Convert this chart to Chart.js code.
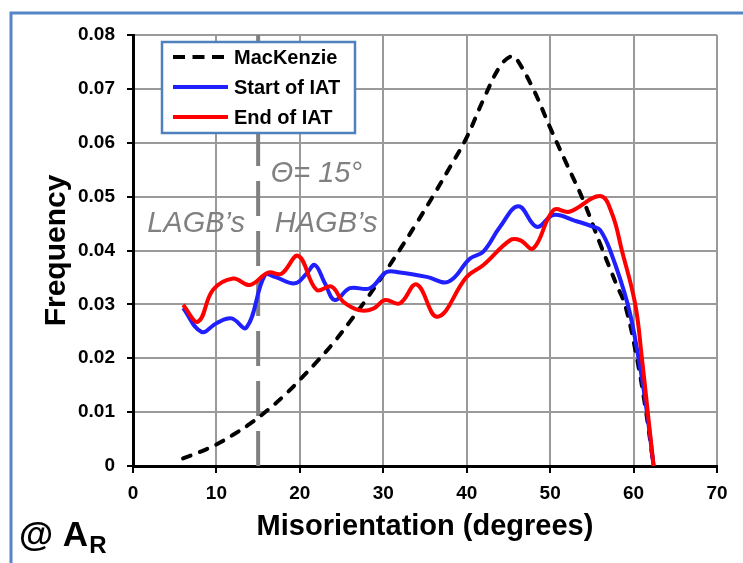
<!DOCTYPE html>
<html>
<head>
<meta charset="utf-8">
<script src="https://cdn.jsdelivr.net/npm/chart.js@4"></script>
<style>
  html, body { margin: 0; padding: 0; background: #fff; }
  #wrap { position: relative; width: 743px; height: 563px; }
</style>
</head>
<body>
<div id="wrap"><canvas id="misoChart" width="743" height="563"></canvas></div>
<script>
// --- DATA ---
const mackX = [6, 8, 10, 12, 14, 16, 18, 20, 22, 24, 26, 28, 30, 32, 34, 36, 38, 40, 42, 44, 45.4, 46, 48, 50, 52, 54, 56, 58, 59, 60.4, 61.5, 62.4];
const mackY = [0.0014, 0.0026, 0.0040, 0.0058, 0.0078, 0.0102, 0.0129, 0.0160, 0.0193, 0.0228, 0.0268, 0.0310, 0.0355, 0.0402, 0.0451, 0.0502, 0.0555, 0.0610, 0.0680, 0.0742, 0.0761, 0.0755, 0.0699, 0.0628, 0.0560, 0.0492, 0.0412, 0.0335, 0.0298, 0.0200, 0.0100, 0];

const startX = [6, 8.2, 10, 11.8, 13.6, 15.8, 17, 19.4, 20.8, 21.8, 23, 24.2, 26, 28.4, 30.4, 32, 35.2, 37.8, 40.4, 42, 44, 46.2, 48.4, 50.4, 53, 55.2, 56, 57.2, 59.3, 60.6, 61.6, 62.4];
const startY = [0.0293, 0.0249, 0.0265, 0.0274, 0.0257, 0.0354, 0.0351, 0.0339, 0.0357, 0.0373, 0.0339, 0.0308, 0.0330, 0.0330, 0.0360, 0.0359, 0.0351, 0.0342, 0.0385, 0.0398, 0.0444, 0.0482, 0.0444, 0.0466, 0.0455, 0.0444, 0.0438, 0.0400, 0.0300, 0.0200, 0.0100, 0];

const endX = [6, 7.8, 9.6, 12, 14, 16.2, 17.8, 19.8, 22, 23.8, 25.2, 27.2, 28.8, 30.2, 32, 34, 36.5, 40, 42, 45.2, 46.4, 48, 50.4, 52.3, 56, 57.4, 58.6, 60.2, 61, 61.7, 62.4];
const endY = [0.0299, 0.0268, 0.0327, 0.0348, 0.0336, 0.0359, 0.0357, 0.0390, 0.0327, 0.0333, 0.0305, 0.0289, 0.0292, 0.0308, 0.0302, 0.0337, 0.0277, 0.0351, 0.0373, 0.0419, 0.0419, 0.0404, 0.0475, 0.0472, 0.0501, 0.0469, 0.0400, 0.0300, 0.0200, 0.0100, 0];

const seriesNames = ['MacKenzie', 'Start of IAT', 'End of IAT'];
const yTickLabels = ['0', '0.01', '0.02', '0.03', '0.04', '0.05', '0.06', '0.07', '0.08'];
const xTickLabels = ['0', '10', '20', '30', '40', '50', '60', '70'];
const thetaCut = 15;

const FONT = 'Arial, "Liberation Sans", sans-serif';

function toPoints(xs, ys) {
  return xs.map((x, i) => ({ x: x, y: ys[i] }));
}

// --- extra drawing: frame, 15 deg line, labels, legend ---
const decorPlugin = {
  id: 'decor',
  beforeDraw(chart) {
    const ctx = chart.ctx;
    ctx.save();
    ctx.fillStyle = '#fff';
    ctx.fillRect(0, 0, chart.width, chart.height);
    ctx.strokeStyle = '#5585c5';
    ctx.lineWidth = 3;
    ctx.beginPath();
    ctx.moveTo(11, chart.height);
    ctx.lineTo(11, 13);
    ctx.lineTo(chart.width, 13);
    ctx.stroke();
    ctx.restore();
  },
  beforeDatasetsDraw(chart) {
    const { ctx, chartArea, scales } = chart;
    const px = scales.x.getPixelForValue(thetaCut);
    ctx.save();
    ctx.strokeStyle = '#808080';
    ctx.lineWidth = 4;
    ctx.setLineDash([35, 15]);
    ctx.beginPath();
    ctx.moveTo(px, chartArea.bottom);
    ctx.lineTo(px, chartArea.top);
    ctx.stroke();
    ctx.setLineDash([]);

    ctx.fillStyle = '#808080';
    ctx.font = 'italic 29px ' + FONT;
    ctx.textBaseline = 'alphabetic';
    ctx.textAlign = 'left';
    ctx.fillText('\u0398= 15\u00b0', scales.x.getPixelForValue(16.5), scales.y.getPixelForValue(0.0527));
    ctx.fillText('LAGB\u2019s', scales.x.getPixelForValue(1.7), scales.y.getPixelForValue(0.0434));
    ctx.fillText('HAGB\u2019s', scales.x.getPixelForValue(17.0), scales.y.getPixelForValue(0.0434));
    ctx.restore();
  },
  afterDraw(chart) {
    const ctx = chart.ctx;
    ctx.save();
    // legend box
    ctx.fillStyle = '#fff';
    ctx.fillRect(162, 42, 193, 91);
    ctx.strokeStyle = '#4f81bd';
    ctx.lineWidth = 2.5;
    ctx.strokeRect(162, 42, 193, 91);
    const rows = [57, 87, 117];
    chart.data.datasets.forEach((ds, i) => {
      const ry = rows[i];
      ctx.strokeStyle = ds.borderColor;
      ctx.lineWidth = 4;
      ctx.lineCap = 'butt';
      ctx.setLineDash(ds.borderDash ? [12, 7.5] : []);
      ctx.beginPath();
      ctx.moveTo(173, ry);
      ctx.lineTo(228, ry);
      ctx.stroke();
      ctx.setLineDash([]);
      ctx.fillStyle = '#000';
      ctx.font = 'bold 20px ' + FONT;
      ctx.textBaseline = 'middle';
      ctx.textAlign = 'left';
      ctx.fillText(ds.label, 234, ry + 1);
    });
    // sample tag
    ctx.fillStyle = '#000';
    ctx.textBaseline = 'alphabetic';
    ctx.font = 'bold 35px ' + FONT;
    ctx.fillText('@ A', 19, 546);
    const w = ctx.measureText('@ A').width;
    ctx.font = 'bold 24px ' + FONT;
    ctx.fillText('R', 20 + w, 553);
    ctx.restore();
  }
};

new Chart(document.getElementById('misoChart'), {
  type: 'line',
  data: {
    datasets: [{
      label: seriesNames[0],
      data: toPoints(mackX, mackY),
      borderColor: '#000',
      borderWidth: 4,
      borderDash: [8, 10],
      borderCapStyle: 'round',
      pointRadius: 0,
      tension: 0.4,
      order: 2
    }, {
      label: seriesNames[1],
      data: toPoints(startX, startY),
      borderColor: '#2020ff',
      borderWidth: 4,
      pointRadius: 0,
      tension: 0.4,
      order: 1
    }, {
      label: seriesNames[2],
      data: toPoints(endX, endY),
      borderColor: '#ff0000',
      borderWidth: 4,
      pointRadius: 0,
      tension: 0.4,
      order: 0
    }]
  },
  options: {
    responsive: false,
    animation: false,
    devicePixelRatio: 1,
    layout: { padding: { left: 0, right: 26, top: 35, bottom: 0 } },
    plugins: { legend: { display: false }, tooltip: { enabled: false } },
    scales: {
      x: {
        type: 'linear',
        min: 0,
        max: 70,
        ticks: {
          stepSize: 10,
          color: '#000',
          padding: 9,
          font: { family: FONT, weight: 'bold', size: 19 },
          callback: (v, i) => xTickLabels[i]
        },
        grid: { color: '#9a9a9a', lineWidth: 2, tickColor: '#000', tickLength: 7, tickWidth: 2 },
        border: { color: '#000', width: 3 },
        title: {
          display: true,
          text: 'Misorientation (degrees)',
          color: '#000',
          font: { family: FONT, weight: 'bold', size: 29 },
          padding: { top: 0, bottom: 19 }
        },
        afterFit: s => { s.height = 97; }
      },
      y: {
        min: 0,
        max: 0.08,
        ticks: {
          stepSize: 0.01,
          color: '#000',
          padding: 12,
          font: { family: FONT, weight: 'bold', size: 19 },
          callback: (v, i) => yTickLabels[i]
        },
        grid: { color: '#9a9a9a', lineWidth: 2, tickColor: '#000', tickLength: 6, tickWidth: 2 },
        border: { color: '#000', width: 3 },
        title: {
          display: true,
          text: 'Frequency',
          color: '#000',
          font: { family: FONT, weight: 'bold', size: 30 },
          padding: { top: 39, bottom: 0 }
        },
        afterFit: s => { s.width = 133; }
      }
    }
  },
  plugins: [decorPlugin]
});
</script>
</body>
</html>
